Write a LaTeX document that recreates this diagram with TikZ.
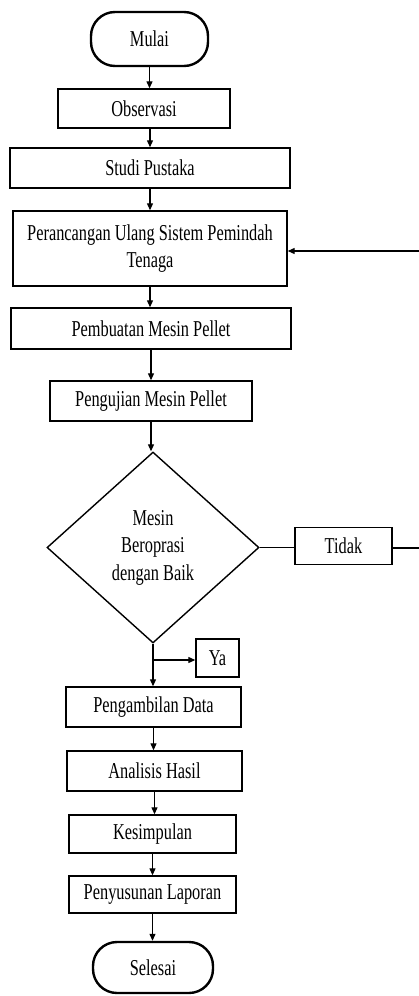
\documentclass[tikz,border=0pt]{standalone}
\usepackage{fontspec}
\setmainfont{Liberation Serif}[FakeStretch=0.72]
\usetikzlibrary{shapes.geometric,arrows.meta}
\begin{document}
\begin{tikzpicture}[x=1pt,y=-1pt,
  txt/.style={font=\fontsize{22.7}{27.5}\selectfont, text=black},
  procbox/.style={txt, draw, line width=1.4pt, rectangle, inner sep=0pt, align=center},
  termbox/.style={txt, draw, line width=2.4pt, rectangle, rounded corners=24pt, inner sep=0pt},
  decbox/.style={txt, draw, line width=1.4pt, diamond, inner sep=0pt, align=center},
  flow/.style={line width=1.2pt, -{Triangle[length=7pt,width=6pt]}},
  plain/.style={line width=1.2pt}]
\useasboundingbox (0,0) rectangle (419,996);
\clip (0,0) rectangle (419,996);
\node[termbox, minimum width=117pt, minimum height=54pt] (mulai) at (149.5,39) {Mulai};
\node[procbox, minimum width=172pt, minimum height=39pt] (obs) at (144,108.5) {Observasi};
\node[procbox, minimum width=280pt, minimum height=40pt] (studi) at (150,168) {Studi Pustaka};
\node[procbox, minimum width=274pt, minimum height=75pt] (peran) at (150,248.5) {Perancangan Ulang Sistem Pemindah\\Tenaga};
\node[procbox, minimum width=280pt, minimum height=41pt] (pemb) at (151,328.5) {Pembuatan Mesin Pellet};
\node[procbox, minimum width=202pt, minimum height=40pt] (uji) at (151,401) {Pengujian Mesin Pellet};
\node[decbox, minimum width=212pt, minimum height=191pt] (dec) at (153,547.5) {Mesin\\Beroprasi\\dengan Baik};
\node[procbox, minimum width=97pt, minimum height=37pt] (tidak) at (343.5,546) {Tidak};
\node[procbox, minimum width=43pt, minimum height=38pt] (ya) at (217.5,658) {Ya};
\node[procbox, minimum width=175pt, minimum height=40pt] (ambil) at (153.5,707) {Pengambilan Data};
\node[procbox, minimum width=175pt, minimum height=40pt] (anal) at (154.5,771) {Analisis Hasil};
\node[procbox, minimum width=167pt, minimum height=38pt] (simp) at (152.5,834) {Kesimpulan};
\node[procbox, minimum width=167pt, minimum height=37pt] (lap) at (152.5,894.5) {Penyusunan Laporan};
\node[termbox, minimum width=120pt, minimum height=51pt] (sel) at (153,967.5) {Selesai};

\draw[flow] (mulai.south) -- (mulai.south |- obs.north);
\draw[flow] (studi.north |- obs.south) -- (studi.north);
\draw[flow] (studi.south) -- (studi.south |- peran.north);
\draw[flow] (peran.south) -- (peran.south |- pemb.north);
\draw[flow] (pemb.south) -- (pemb.south |- uji.north);
\draw[flow] (uji.south) -- (uji.south |- dec.north);
\draw[flow] (dec.south) -- (dec.south |- ambil.north);
\coordinate (br) at (153,660);
\draw[flow] (br) -- (br -| ya.west);
\draw[plain] (dec.east) -- (dec.east -| tidak.west);
\coordinate (back) at (424,548);
\draw[flow] (tidak.east |- back) -- (back) |- ([yshift=-2.5pt]peran.east);
\draw[flow] (ambil.south) -- (ambil.south |- anal.north);
\draw[flow] (anal.south) -- (anal.south |- simp.north);
\draw[flow] (simp.south) -- (simp.south |- lap.north);
\draw[flow] (lap.south) -- (lap.south |- sel.north);
\end{tikzpicture}
\end{document}
